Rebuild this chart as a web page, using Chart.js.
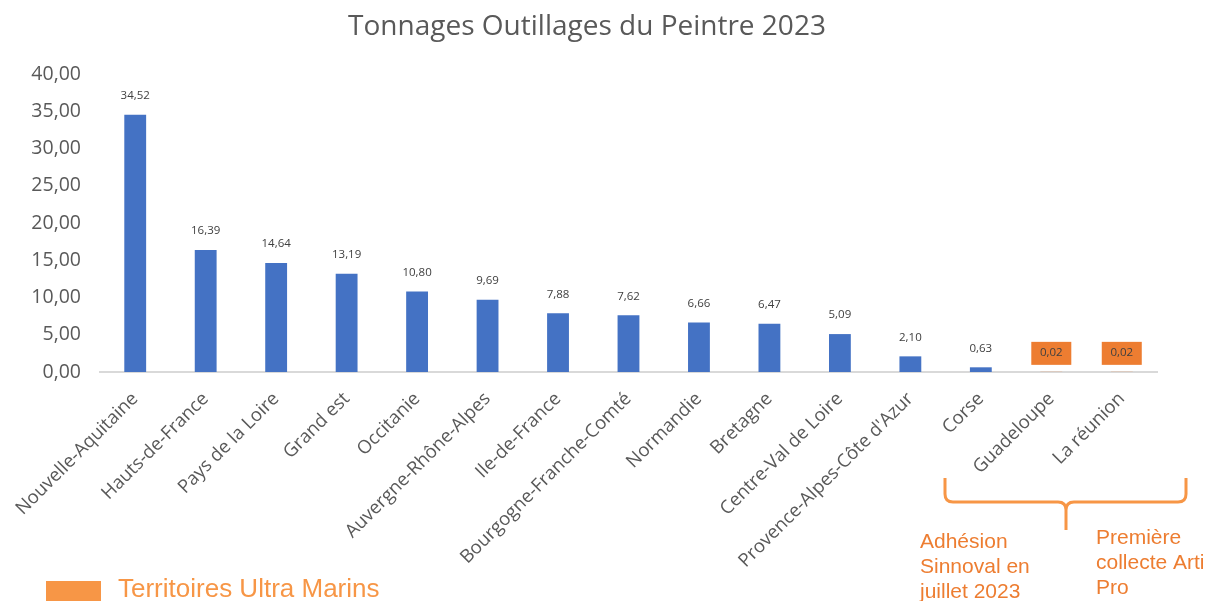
<!DOCTYPE html>
<html>
<head>
<meta charset="utf-8">
<script src="https://cdn.jsdelivr.net/npm/chart.js@4"></script>
<style>
  html, body { margin: 0; padding: 0; background: #fff; }
  #wrap { width: 1207px; height: 601px; position: relative; }
</style>
</head>
<body>
<div id="wrap"><canvas id="chart" width="1207" height="601"></canvas></div>
<script>
// data
const regions = ['Nouvelle-Aquitaine', 'Hauts-de-France', 'Pays de la Loire', 'Grand est', 'Occitanie',
  'Auvergne-Rhône-Alpes', 'Ile-de-France', 'Bourgogne-Franche-Comté', 'Normandie', 'Bretagne',
  'Centre-Val de Loire', "Provence-Alpes-Côte d'Azur", 'Corse', 'Guadeloupe', 'La réunion'];
const tonnages = [34.52, 16.39, 14.64, 13.19, 10.80, 9.69, 7.88, 7.62, 6.66, 6.47, 5.09, 2.10, 0.63, 0.02, 0.02];
const outreMer = [false, false, false, false, false, false, false, false, false, false, false, false, false, true, true];
const yTicks = ['0,00', '5,00', '10,00', '15,00', '20,00', '25,00', '30,00', '35,00', '40,00'];

const blue = '#4472C4';
const orange = '#ED7D31';
const lightOrange = '#F79646';
const textGrey = '#595959';
const fontMain = "'Open Sans', 'Noto Sans', sans-serif";
const fontArial = "'Liberation Sans', Arial, sans-serif";

const fmt = v => v.toFixed(2).replace('.', ',');

// value labels above bars, orange boxes for overseas territories
const valueLabels = {
  id: 'valueLabels',
  afterDatasetsDraw(chart) {
    const ctx = chart.ctx;
    const meta = chart.getDatasetMeta(0);
    ctx.save();
    ctx.font = '11.5px ' + fontMain;
    ctx.textAlign = 'center';
    ctx.textBaseline = 'middle';
    meta.data.forEach((bar, i) => {
      const y = bar.y - 19;
      if (outreMer[i]) {
        ctx.fillStyle = orange;
        ctx.fillRect(bar.x - 20, y - 11, 40, 23);
      }
      ctx.fillStyle = '#404040';
      ctx.fillText(fmt(tonnages[i]), bar.x, y);
    });
    ctx.restore();
  }
};

// title, legend and bracket annotation
const decorations = {
  id: 'decorations',
  afterDraw(chart) {
    const ctx = chart.ctx;
    ctx.save();
    ctx.fillStyle = textGrey;
    ctx.font = '28px ' + fontMain;
    ctx.textAlign = 'center';
    ctx.textBaseline = 'alphabetic';
    ctx.fillText('Tonnages Outillages du Peintre 2023', 587, 35);

    // legend
    ctx.fillStyle = lightOrange;
    ctx.fillRect(46, 581, 55, 20);
    ctx.font = '26px ' + fontArial;
    ctx.textAlign = 'left';
    ctx.fillText('Territoires Ultra Marins', 118, 597);

    // bracket under the last categories
    const x0 = 945, x1 = 1186, xm = 1066;
    const yt = 478, yb = 502, r = 8;
    ctx.strokeStyle = lightOrange;
    ctx.lineWidth = 3;
    ctx.beginPath();
    ctx.moveTo(x0, yt);
    ctx.lineTo(x0, yb - r);
    ctx.quadraticCurveTo(x0, yb, x0 + r, yb);
    ctx.lineTo(xm - r, yb);
    ctx.quadraticCurveTo(xm, yb, xm, yb + r);
    ctx.lineTo(xm, 530);
    ctx.moveTo(xm, yb + r);
    ctx.quadraticCurveTo(xm, yb, xm + r, yb);
    ctx.lineTo(x1 - r, yb);
    ctx.quadraticCurveTo(x1, yb, x1, yb - r);
    ctx.lineTo(x1, yt);
    ctx.stroke();

    ctx.fillStyle = orange;
    ctx.font = '21px ' + fontArial;
    ['Adhésion', 'Sinnoval en', 'juillet 2023'].forEach((t, i) => ctx.fillText(t, 920, 548 + i * 25));
    ['Première', 'collecte Arti', 'Pro'].forEach((t, i) => ctx.fillText(t, 1096, 544 + i * 25));
    ctx.restore();
  }
};

new Chart(document.getElementById('chart'), {
  type: 'bar',
  data: {
    labels: regions,
    datasets: [{
      data: tonnages,
      backgroundColor: tonnages.map((v, i) => outreMer[i] ? orange : blue),
      barPercentage: 0.31,
      categoryPercentage: 1
    }]
  },
  options: {
    responsive: false,
    animation: false,
    layout: { padding: { top: 74, right: 50, left: 0, bottom: 0 } },
    plugins: { legend: { display: false }, tooltip: { enabled: false } },
    scales: {
      x: {
        afterFit: s => { s.height = 229; },
        grid: { display: false, drawTicks: false },
        border: { color: '#D9D9D9', width: 2 },
        ticks: {
          color: textGrey,
          font: { family: fontMain, size: 18.5 },
          maxRotation: 45, minRotation: 45,
          autoSkip: false,
          padding: 16
        }
      },
      y: {
        min: 0, max: 40,
        afterFit: s => { s.width = 97; },
        grid: { display: false, drawTicks: false },
        border: { display: false },
        ticks: {
          stepSize: 5,
          color: textGrey,
          font: { family: fontMain, size: 19.5 },
          padding: 19,
          callback: (v, i) => yTicks[i]
        }
      }
    }
  },
  plugins: [valueLabels, decorations]
});
</script>
</body>
</html>
